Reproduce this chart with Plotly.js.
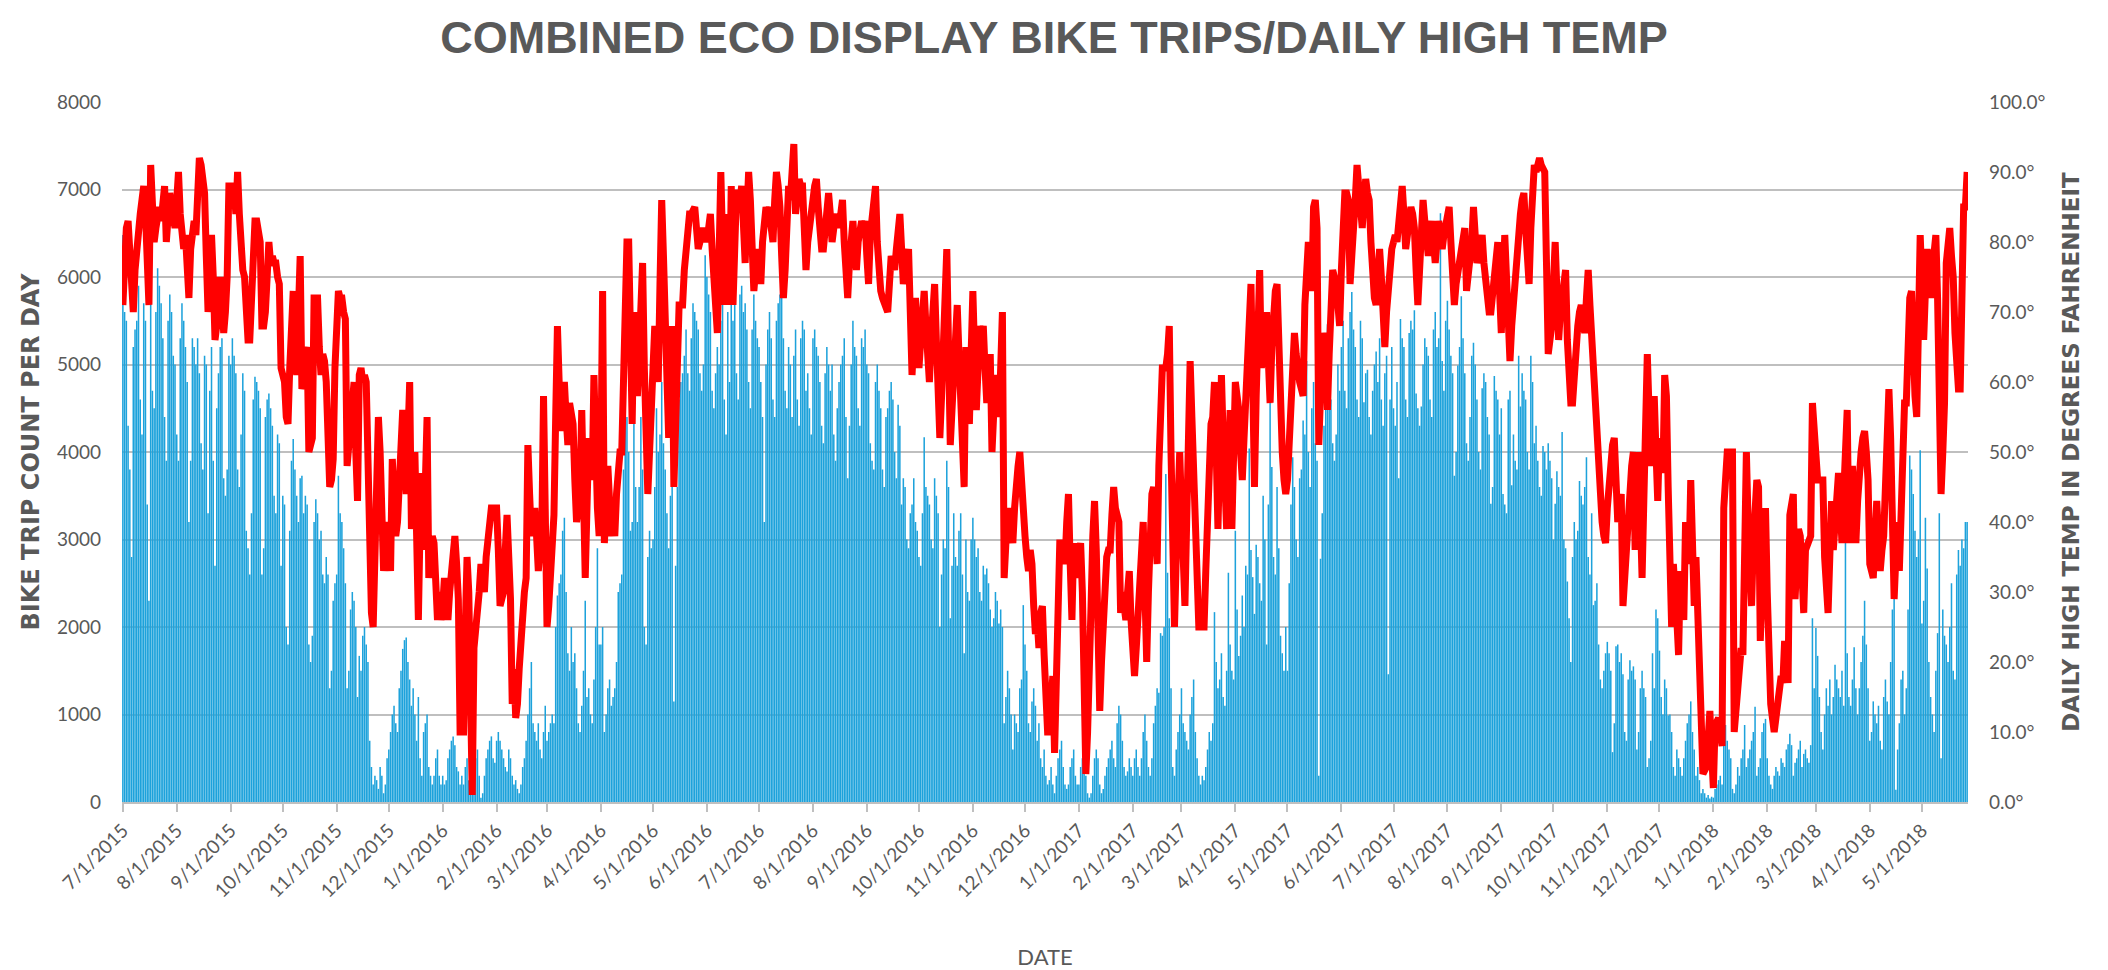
<!DOCTYPE html>
<html>
<head>
<meta charset="utf-8">
<script src="https://cdn.plot.ly/plotly-3.0.1.min.js"></script>
<style>
html,body{margin:0;padding:0;background:#ffffff;}
#chart{width:2108px;height:970px;}
</style>
</head>
<body>
<div id="chart"></div>
<script>
// ---- Data, one list per month ----
const months2015 = ['2015-07','2015-08','2015-09','2015-10','2015-11','2015-12'];
const months2016 = ['2016-01','2016-02','2016-03','2016-04','2016-05','2016-06','2016-07','2016-08','2016-09','2016-10','2016-11','2016-12'];
const months2017 = ['2017-01','2017-02','2017-03','2017-04','2017-05','2017-06','2017-07','2017-08','2017-09','2017-10','2017-11','2017-12'];
const months2018 = ['2018-01','2018-02','2018-03','2018-04','2018-05'];

// Bike trip counts per day
const trips2015 = [
 [6480,5600,5500,4300,3800,2800,5200,5400,5500,5900,4600,4200,5700,5500,3400,2300,5800,4700,4500,5600,6100,5900,5700,5300,4400,3900,5500,5800,5600,5100,5000],
 [4200,3900,5300,5700,5500,5200,4800,3200,3900,5300,5200,5000,5300,4900,4100,3800,5100,5000,3300,4700,5200,3900,2700,4500,4900,5200,5300,3700,3500,3800,5100],
 [5000,5300,5100,4900,3800,3600,4200,4900,4700,3100,2900,2600,3300,4600,4860,4800,4700,4500,2600,2900,4400,4600,4670,4500,4300,3500,3300,4200,4100,2700],
 [3500,3400,2000,1800,3100,3900,4150,3800,3500,3200,3700,3730,3300,3500,3400,1800,1600,1900,3200,3460,3300,3000,3100,2600,2500,2800,2600,1300,1500,2300,2500],
 [2600,3730,3300,3200,2900,2500,1300,1500,2200,2400,2300,2000,1200,1670,1500,1900,2000,1800,1600,700,400,200,300,250,150,400,300,100,200,500],
 [600,800,1000,1100,900,800,1300,1500,1750,1850,1880,1600,1400,1100,1300,1000,700,1200,500,300,800,900,1000,400,300,200,300,500,600,300,200]
];
const trips2016 = [
 [300,200,250,500,600,700,750,650,400,350,200,300,200,400,500,250,100,150,400,500,600,300,50,100,300,500,600,700,750,500,450],
 [700,800,700,600,500,400,350,600,500,300,200,250,150,100,200,400,500,700,1000,1300,1600,900,800,700,900,600,500,800,1100],
 [700,800,900,1000,900,2000,2360,2500,2600,3100,3250,2400,1700,1500,2000,1600,1700,1300,900,800,1100,1500,2300,1200,1300,1000,900,1400,2000,2900,1800],
 [1800,2000,800,1000,1300,1400,1100,1200,1300,1600,2400,2500,2600,3800,4500,4400,4000,3100,3200,4570,3600,3200,3600,4400,3800,2000,1800,2800,3100,2900],
 [3000,3600,4500,4000,4200,4800,4100,3800,3300,2900,3500,3900,1150,2700,3600,4600,4800,4900,5100,5400,4900,4700,5300,5700,5600,5500,5400,4900,4700,5000,6250],
 [6000,5800,5600,4700,4500,4900,5200,5000,5500,5700,4600,4200,5600,4800,6040,5500,5700,4900,4600,5800,5900,5600,5700,5400,4800,4500,5400,5800,5500,5300],
 [5200,4800,4400,3200,5000,5400,5600,5300,4600,4400,5500,5700,5800,6040,5300,4700,4500,5200,5000,4400,5100,5400,4600,4300,5300,5500,5400,4700,4900,4500,4200],
 [5300,5400,5200,5100,4800,4300,4100,4900,5200,5000,4700,5000,4200,3900,4500,4800,5000,5100,5300,4400,3700,4300,5000,5500,5200,5100,4500,4300,5300,5200,5400],
 [5000,4900,4100,3900,3800,4800,5000,4700,4500,3800,3600,4400,4500,4700,4800,4600,4000,3700,4540,4300,3400,3700,3600,3000,2900,3300,3400,3700,3200,3100],
 [2800,2700,3300,4170,3600,3500,3400,3000,2900,3700,3500,3300,2000,2600,3000,2900,3900,3600,2100,2700,3300,2800,2700,3100,3300,2600,1700,3000,2400,2300,3000],
 [3250,3000,2800,2900,2400,2300,2700,2600,2670,2500,2200,2000,2100,2400,2300,2040,2200,2000,900,1200,1500,1300,1000,600,1000,900,800,1300,1400,2250],
 [1800,1500,900,800,1150,1300,1100,700,900,500,400,600,300,200,250,400,200,100,300,500,600,700,400,200,150,200,400,500,600,300,200]
];
const trips2017 = [
 [200,400,500,450,300,100,50,100,300,500,600,500,200,100,150,300,400,500,600,700,500,400,900,1100,1000,700,400,300,350,500,400],
 [300,500,600,400,300,500,800,1000,700,400,300,500,900,1100,1300,1250,1930,1900,2000,3750,2620,2100,1300,400,300,600,800,1000],
 [1300,900,800,700,600,1000,1200,1400,800,500,300,200,300,250,400,600,800,700,900,2170,1600,1300,1400,1700,1200,1100,1500,2620,1800,1500,1400],
 [3100,2200,1670,1900,2360,2000,2700,2600,4040,2880,2570,2150,2940,2800,2500,2300,3500,3000,1800,3400,4830,3830,2800,2600,3600,2900,1900,1700,1500,2000],
 [1500,2500,3400,3940,3600,3000,2800,3700,3800,4360,4200,5040,4000,3600,4500,4800,4100,3900,300,2780,3300,4300,4730,5460,4800,4600,4100,3900,4200,5000,4700],
 [5200,5500,4700,4500,5300,5600,5830,5400,5200,4600,4400,5500,5300,4570,4900,4940,4400,4200,4700,5000,5150,4800,5300,4600,4300,4900,5100,1460,4600,5200],
 [4500,4300,4800,3700,5520,5300,5200,4600,4400,5360,5500,5400,5620,4670,4500,4300,4520,5000,5300,5200,5100,4600,4400,5400,5600,5200,5300,6730,5040,4700,5500],
 [5730,5400,5100,4900,3730,4000,4990,5200,5780,5300,4900,4100,3900,4400,5100,5250,5000,4600,4000,3800,4730,4900,4800,4400,4200,3410,3600,4870,4700,4600,4200],
 [4500,3520,3400,3300,4600,4700,3620,4200,3900,3800,5100,4520,4900,4700,4600,4000,3800,5100,4800,4100,4300,3900,3600,3500,4070,4000,3800,4100,3900,3700],
 [3000,3410,3780,3600,3500,4230,3000,2900,2520,2100,1600,2800,3200,3000,3100,3670,3500,3400,3600,3940,2800,2600,3300,2250,2300,2500,1800,1400,1300,1500,1700],
 [1830,1700,1500,570,900,1780,1800,1600,1700,1460,800,700,1400,1620,1500,1550,1400,600,800,1300,1500,1300,1200,400,500,700,1700,1300,2200,2100],
 [1730,1200,1000,1400,1300,990,1000,800,400,300,600,500,400,300,500,700,900,1000,1150,800,600,300,400,250,100,150,100,50,80,40,60]
];
const trips2018 = [
 [50,150,200,250,300,200,780,880,700,600,500,150,100,200,400,300,500,600,880,400,500,600,700,800,1090,300,400,500,800,900,950],
 [500,300,200,150,300,400,350,300,500,450,400,600,660,780,650,300,450,500,600,700,400,550,600,500,450,650,2100,1300],
 [1990,1670,1200,800,600,1000,1300,1100,1400,1000,1200,1570,1400,1300,1200,1500,1100,3040,1700,1200,1100,1400,1770,1300,1000,1300,1600,1900,2300,1800,1300],
 [700,800,1150,1000,900,1100,700,600,1200,1400,1150,1000,1600,2200,2570,140,600,900,1400,1500,1000,1300,2200,3960,3800,3520,3100,2800,3000,4020],
 [2040,2300,3250,2670,1600,1200,1000,800,1500,1930,3300,500,2200,1900,1800,1600,2000,2500,1500,1400,2600,2880,2700,3000,2900,3200,3200]
];

// Daily high temperature (deg F)
const temps2015 = [
 [71,78,82,83,78,72,70,76,80,80,84,86,88,84,75,71,91,86,80,82,84,85,83,87,88,80,84,87,85,84,82],
 [86,90,84,80,79,81,77,72,79,83,83,81,86,92,91,89,87,78,70,75,81,75,66,68,72,75,72,67,70,75,88],
 [88,88,88,84,90,84,76,76,75,66,66,66,74,81,83,83,80,80,68,68,70,75,80,77,78,77,77,75,74,62],
 [61,60,55,54,62,70,73,66,61,70,78,59,60,64,65,50,51,52,72,72,72,65,61,64,63,60,55,45,46,49,62],
 [72,73,72,72,70,69,48,52,56,60,60,50,43,61,62,60,61,60,45,31,27,25,33,40,55,50,43,33,36,40],
 [37,33,49,45,38,40,44,50,56,50,44,52,60,39,45,50,38,26,40,47,36,45,55,32,38,38,37,28,26,30,26]
];
const temps2016 = [
 [28,32,30,26,30,33,36,38,34,29,10,10,10,25,35,30,10,1,22,24,26,30,34,32,30,35,38,40,42,42,42],
 [42,36,28,29,30,36,41,35,29,14,19,12,14,19,24,27,30,32,51,44,38,40,42,38,33,36,38,58,40],
 [25,28,33,37,41,55,68,60,53,57,60,55,51,57,55,54,46,40,42,45,56,44,32,42,52,49,46,61,49,42,38],
 [48,73,37,42,48,43,38,40,38,44,49,50,50,65,78,80,80,66,54,70,64,58,64,70,77,62,49,44,50,54],
 [62,68,64,60,74,86,78,71,60,52,60,68,45,58,71,71,71,71,76,80,83,84,84,85,85,82,79,80,81,82,81],
 [80,82,84,79,74,70,67,78,90,80,71,78,84,71,88,71,80,87,87,86,88,82,77,84,90,86,80,73,76,79],
 [77,74,80,85,85,84,85,82,80,86,90,88,85,78,72,76,81,88,86,90,94,84,87,89,88,88,82,76,80,83,85],
 [86,88,89,85,81,79,79,83,86,87,84,80,82,83,84,82,85,86,80,75,72,77,80,83,79,76,80,82,83,82,83],
 [78,74,81,83,85,88,80,74,73,72,71,70,70,74,78,77,76,79,82,84,79,74,76,78,79,70,61,66,72,67],
 [62,66,70,73,68,63,60,66,71,74,66,58,52,58,65,72,79,65,51,56,61,66,71,64,57,50,45,65,60,54,64],
 [73,64,56,62,68,66,68,62,57,60,64,50,55,61,58,55,62,70,32,38,42,40,38,37,42,47,48,50,45,41],
 [38,35,33,36,34,28,24,26,22,27,28,21,12,10,10,14,18,7,22,36,37,37,35,34,40,44,34,26,37,34,32]
];
const temps2017 = [
 [35,37,30,15,4,10,16,28,38,43,36,24,13,20,27,33,35,36,36,41,45,42,41,40,27,30,28,26,30,33,26],
 [22,18,22,27,31,36,40,30,20,30,41,44,45,40,34,48,62,62,62,62,64,68,50,33,25,35,44,50],
 [42,35,28,40,52,63,55,46,37,30,25,25,25,25,33,41,48,54,55,60,50,39,50,61,52,45,39,48,56,39,50],
 [60,58,56,50,46,52,57,62,68,74,60,45,58,70,76,62,66,70,70,63,57,65,72,73,74,64,57,50,46,44],
 [46,52,58,63,67,64,61,60,59,58,71,76,80,77,73,85,86,82,51,58,66,67,66,56,64,70,76,75,74,71,68],
 [76,82,87,87,86,74,77,80,86,91,88,84,82,86,89,87,86,80,73,72,71,75,79,75,70,65,70,74,77,79],
 [80,81,80,83,86,88,84,79,81,83,85,84,82,76,71,76,81,86,83,80,78,81,83,80,77,80,83,81,79,81,83],
 [84,85,80,75,71,74,76,78,80,81,82,73,75,76,80,85,81,77,78,80,81,77,74,71,70,70,73,76,78,80,73],
 [67,74,81,75,69,63,68,72,76,79,82,84,86,87,82,78,74,82,88,91,90,91,92,91,90,90,77,64,66,68],
 [74,80,73,66,70,73,75,76,66,57,57,57,62,67,68,70,71,69,67,72,76,71,66,63,60,54,47,43,40,38,37],
 [42,46,50,51,52,46,40,42,44,28,33,37,41,45,48,50,36,43,50,41,32,43,54,64,56,48,53,58,50,43],
 [52,50,47,61,58,45,32,25,34,31,26,21,33,30,26,40,37,34,46,36,28,35,29,23,12,4,5,5,9,13,7]
];
const temps2018 = [
 [2,11,12,12,10,8,42,48,50,50,50,50,10,14,18,22,22,21,35,50,40,31,28,37,46,46,45,23,30,36,42],
 [30,18,14,12,10,12,15,18,18,17,23,20,17,41,43,44,29,39,39,38,32,27,36,37,38,38,57,52],
 [48,46,46,46,46,35,31,27,35,43,36,40,44,47,42,37,44,50,56,37,43,48,42,37,43,49,50,52,53,50,46],
 [34,33,32,38,43,38,33,36,38,45,52,59,52,40,29,35,40,33,45,57,57,57,71,72,73,60,58,55,68,81],
 [74,66,73,79,76,72,76,79,81,72,60,44,50,57,77,80,82,78,75,67,59,59,59,85,85,85,90]
];

const titleText = 'COMBINED ECO DISPLAY BIKE TRIPS/DAILY HIGH TEMP';
const leftTitle = 'BIKE TRIP COUNT PER DAY';
const rightTitle = 'DAILY HIGH TEMP IN DEGREES FAHRENHEIT';
const xTitle = 'DATE';

// ---- Build the daily series ----
function expand(monthLabels, monthLists, dates, vals) {
  monthLists.forEach(function (list, m) {
    list.forEach(function (v, i) {
      const d = String(i + 1).padStart(2, '0');
      dates.push(monthLabels[m] + '-' + d);
      vals.push(v);
    });
  });
}
const tripDates = [], tripVals = [], tempDates = [], tempVals = [];
[[months2015, trips2015, temps2015], [months2016, trips2016, temps2016],
 [months2017, trips2017, temps2017], [months2018, trips2018, temps2018]].forEach(function (y) {
  expand(y[0], y[1], tripDates, tripVals);
  expand(y[0], y[2], tempDates, tempVals);
});

const grey = '#595959';
const tickFont = {family: 'Lato, "Open Sans", sans-serif', size: 19, color: grey};

const traces = [
  {
    type: 'bar', x: tripDates, y: tripVals, name: 'Bike trips',
    marker: {color: '#1DA2DB', line: {width: 0}},
    hoverinfo: 'x+y'
  },
  {
    type: 'scatter', mode: 'lines', x: tempDates, y: tempVals, yaxis: 'y2', name: 'Daily high temp',
    line: {color: '#FF0000', width: 7}
  }
];

const layout = {
  width: 2108, height: 970,
  margin: {l: 122, r: 140, t: 102, b: 168, autoexpand: false},
  paper_bgcolor: '#ffffff', plot_bgcolor: '#ffffff',
  showlegend: false,
  bargap: 0.12,
  title: {
    text: titleText, x: 0.5, xanchor: 'center', y: 0.962, yanchor: 'middle',
    font: {family: '"Liberation Sans", Arial, sans-serif', size: 45, color: grey, weight: 'bold'}
  },
  xaxis: {
    type: 'date',
    range: ['2015-06-30 12:00', '2018-05-27 12:00'],
    tick0: '2015-07-01', dtick: 'M1', tickformat: '%-m/%-d/%Y', tickangle: -45,
    ticks: 'outside', ticklen: 8, tickwidth: 2, tickcolor: '#BFBFBF',
    showline: true, linecolor: '#BFBFBF', linewidth: 2,
    showgrid: false, zeroline: false,
    tickfont: tickFont, automargin: false,
    title: {text: xTitle, font: {family: 'Lato, sans-serif', size: 22, color: grey}, standoff: 50}
  },
  yaxis: {
    range: [0, 8000], dtick: 1000, tick0: 0,
    showgrid: true, gridcolor: '#BFBFBF', gridwidth: 2,
    zeroline: false, showline: false, ticks: '',
    ticklabelstandoff: 20,
    tickfont: tickFont, automargin: false,
    title: {text: leftTitle, font: {family: '"DejaVu Sans", sans-serif', size: 24, color: grey, weight: 'bold'}, standoff: 10}
  },
  yaxis2: {
    overlaying: 'y', side: 'right', anchor: 'x',
    range: [0, 100], dtick: 10, tick0: 0, tickformat: '.1f', ticksuffix: '°',
    showgrid: false, zeroline: false, showline: false, ticks: '',
    ticklabelstandoff: 20,
    tickfont: tickFont, automargin: false,
    title: {text: rightTitle, font: {family: '"DejaVu Sans", sans-serif', size: 23, color: grey, weight: 'bold'}, standoff: 18}
  }
};

Plotly.newPlot('chart', traces, layout, {displayModeBar: false, staticPlot: true});
</script>
</body>
</html>
